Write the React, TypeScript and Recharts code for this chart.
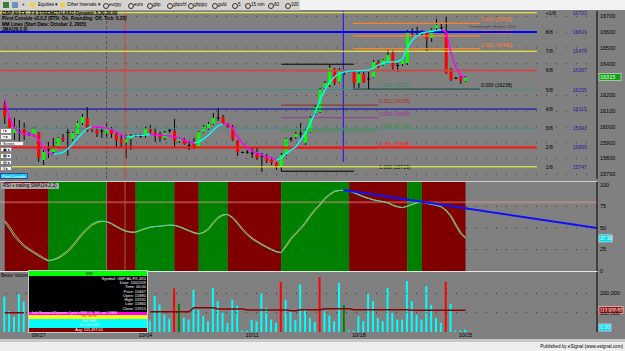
import React from 'react';
import { ComposedChart, Bar, Line, XAxis, YAxis, ReferenceLine, ReferenceArea, Cell } from 'recharts';

// ---------- price panel ----------
// [open, high, low, close]
const candles: number[][] = [
  [16139, 16171, 16019, 16063], [16058, 16065, 15917, 15952], [15962, 16057, 15917, 15993], [15974, 16044, 15905, 15968],
  [15993, 16025, 15917, 15949], [15955, 15965, 15943, 15952], [15955, 15997, 15939, 15987], [15962, 15968, 15778, 15803],
  [15791, 15854, 15759, 15841], [15854, 15905, 15803, 15860], [15841, 15930, 15822, 15873], [15879, 15936, 15867, 15930],
  [15930, 15955, 15905, 15917], [15968, 15993, 15816, 15962], [15924, 15968, 15911, 15962], [15955, 16038, 15949, 16025],
  [16025, 16082, 16012, 16063], [16057, 16126, 15968, 15974], [16000, 16006, 15968, 15981], [15981, 16000, 15936, 15955],
  [15974, 15993, 15930, 15977], [15955, 16025, 15930, 15987], [15987, 16000, 15930, 15955], [15955, 15962, 15873, 15917],
  [15924, 15955, 15873, 15898], [15898, 15949, 15803, 15924], [15924, 15955, 15854, 15943], [15943, 15952, 15936, 15946],
  [15943, 15955, 15930, 15944], [15949, 16000, 15930, 15987], [15987, 16012, 15949, 15968], [15968, 15993, 15905, 15955],
  [15955, 15968, 15905, 15930], [15930, 15974, 15917, 15962], [15974, 15993, 15962, 15981], [15974, 16050, 15873, 15911],
  [15911, 15936, 15898, 15930], [15917, 15930, 15886, 15892], [15886, 15911, 15854, 15883], [15898, 15930, 15860, 15867],
  [15873, 15974, 15867, 15968], [15968, 16012, 15962, 16000], [15993, 16031, 15981, 16019], [16019, 16088, 16012, 16057],
  [16057, 16120, 16038, 16060], [16063, 16076, 16012, 16019], [16019, 16025, 15993, 16000], [16000, 16012, 15911, 15917],
  [15911, 15917, 15816, 15841], [15841, 15845, 15835, 15838], [15841, 15854, 15829, 15843], [15835, 15867, 15803, 15836],
  [15829, 15873, 15791, 15803], [15816, 15835, 15715, 15813], [15816, 15829, 15772, 15784], [15791, 15810, 15759, 15772],
  [15772, 15778, 15727, 15747], [15747, 15835, 15718, 15822], [15829, 15930, 15816, 15924], [15924, 15936, 15905, 15927],
  [15936, 15968, 15924, 15955], [15955, 16025, 15930, 15959], [15898, 15987, 15886, 15974], [15968, 16069, 15962, 16057],
  [16088, 16139, 16076, 16126], [16095, 16247, 16088, 16234], [16247, 16291, 16234, 16278], [16265, 16398, 16253, 16373],
  [16367, 16373, 16265, 16278], [16285, 16373, 16278, 16360], [16348, 16360, 16329, 16351], [16354, 16360, 16345, 16351],
  [16348, 16360, 16247, 16278], [16278, 16348, 16247, 16335], [16335, 16348, 16278, 16285], [16303, 16348, 16240, 16307],
  [16316, 16424, 16310, 16411], [16411, 16424, 16373, 16379], [16392, 16430, 16386, 16424], [16411, 16487, 16405, 16455],
  [16468, 16487, 16360, 16379], [16386, 16405, 16348, 16392], [16398, 16436, 16386, 16424], [16405, 16614, 16392, 16607],
  [16601, 16626, 16569, 16604], [16607, 16633, 16569, 16601], [16595, 16614, 16576, 16598], [16595, 16601, 16481, 16557],
  [16563, 16626, 16538, 16614], [16626, 16683, 16614, 16645], [16626, 16658, 16601, 16630], [16607, 16696, 16335, 16341],
  [16367, 16373, 16291, 16297], [16310, 16316, 16303, 16312], [16316, 16322, 16272, 16291], [16291, 16322, 16285, 16315],
];

const trailMa = [
  16171, 16057, 15993, 15968, 15955, 15952, 15952, 15917, 15867, 15835,
  15827, 15831, 15839, 15860, 15890, 15928, 15960, 15991, 16002, 16001,
  15998, 15991, 15981, 15970, 15949, 15935, 15938, 15945, 15946, 15949,
  15953, 15949, 15947, 15946, 15943, 15936, 15930, 15917, 15905, 15898,
  15905, 15924, 15949, 15981, 16006, 16019, 16018, 15993, 15936, 15898,
  15867, 15848, 15835, 15822, 15810, 15803, 15791, 15803, 15829, 15854,
  15873, 15917, 15962, 16025, 16088, 16171, 16234, 16285, 16316, 16341,
  16348, 16354, 16355, 16357, 16358, 16360, 16373, 16392, 16405, 16411,
  16412, 16414, 16430, 16500, 16550, 16576, 16595, 16601, 16604, 16611,
  16614, 16601, 16468, 16379, 16329, 16310,
];
// bar ranges where the trailing line is drawn cyan (rising)
const maRising = [[10, 18], [25, 30], [39, 45], [56, 90]];

// 16300 sits under the last-price box, as in the original
const priceTicks = [15700, 15800, 15900, 16000, 16100, 16200, 16400, 16500, 16600, 16700];

const mmNames = ['+1/8', '8/8', '7/8', '6/8', '5/8', '4/8', '3/8', '2/8', '1/8'];
const mmValues = [16723, 16601, 16479, 16357, 16235, 16113, 15991, 15869, 15747];
const mmColors = ['#ffff30', '#0000ff', '#ffff30', '#c84a4a', '#3f9090', '#0000b8', '#3f9090', '#ff1010', '#ffff30'];
const mmWidths = [1, 2, 1, 2, 1, 1, 1, 2, 1];

const fibHigh = [
  { tag: '0.618 (16656)', value: 16656, color: '#ff7f27' },
  { tag: '0.500 (16576)', value: 16576, color: '#ff7f27' },
  { tag: '0.382 (16496)', value: 16496, color: '#ff7f27' },
  { tag: '0.000 (16238)', value: 16238, color: '#000000' },
];
const fibLow = [
  { tag: '', value: 16397, color: '#000000', short: true },
  { tag: '0.236 (16237)', value: 16237, color: '#2f8f70', short: false },
  { tag: '0.382 (16138)', value: 16138, color: '#8b2a2a', short: false },
  { tag: '0.500 (16058)', value: 16058, color: '#a030a0', short: false },
  { tag: '0.618 (15979)', value: 15979, color: '#3a9a3a', short: false },
  { tag: '0.786 (15864)', value: 15864, color: '#ff2020', short: false },
  { tag: '1.000 (15719)', value: 15719, color: '#000000', short: true },
];

// ---------- RSI panel ----------
const rsx = [
  57.3, 48.8, 39.9, 33.7, 28.3, 24.4, 20.9, 17.4, 14, 11.6,
  13.4, 15.5, 19.8, 23.8, 30.2, 37.2, 44.2, 50, 54.7, 57.3,
  58.1, 57.3, 54.7, 51.2, 48.3, 45.9, 45, 45.3, 47.7, 49.6,
  51.2, 51.7, 52.3, 52.9, 53.5, 52.9, 51.2, 48.8, 46.5, 44.2,
  43, 45.3, 49.6, 57, 62.8, 65.7, 65.7, 61.3, 54.7, 47.7,
  41.9, 37.2, 33.7, 30.2, 27.3, 24.4, 22.1, 21.3, 30.2, 38.4,
  44.2, 50, 57, 65.1, 72.1, 77.9, 84.9, 89.5, 93, 93.6,
  94.2, 93, 90.7, 88.4, 86, 84.3, 82.6, 81.4, 80.6, 79.1,
  76.2, 74.4, 73.6, 75.6, 77.6, 79.7, 80.6, 78.5, 77.3, 76.2,
  74.4, 69.8, 62.8, 52.3, 43, 37.9,
];
const rsxSma = [
  59, 52, 43, 36, 30, 26, 22.5, 19, 15.5, 12.5,
  12.8, 14.5, 18, 22, 28, 35, 42, 48, 53, 56,
  57.6, 57.6, 55.5, 52.3, 49.2, 46.6, 45.4, 45.2, 47, 49,
  50.8, 51.5, 52, 52.7, 53.3, 53.2, 51.8, 49.6, 47.2, 45,
  43.5, 44.5, 48, 55, 61.2, 64.8, 65.9, 62.6, 56.5, 49.5,
  43.5, 38.5, 34.8, 31.3, 28.3, 25.3, 22.8, 21.5, 28, 36.4,
  42.8, 48.6, 55.4, 63.2, 70.4, 76.5, 83.3, 88.4, 92.2, 93.5,
  94.1, 93.3, 91.3, 89, 86.6, 84.8, 83, 81.7, 80.8, 79.5,
  76.9, 75, 73.8, 75.1, 77.1, 79.2, 80.4, 79, 77.6, 76.5,
  74.9, 70.9, 64.6, 54.6, 45.3, 39,
];
// [from bar, to bar, rising?]
const rsiZones = [
  [0, 9, 0], [9, 21, 1], [21, 27, 0], [27, 35, 1], [35, 40, 0], [40, 46, 1],
  [46, 57, 0], [57, 71, 1], [71, 83, 0], [83, 86, 1], [86, 95, 0],
];
const rsiTicks = [0, 25, 50, 75, 100];
const rsiTrend = [{ x: 69.8, y: 94.2 }, { x: 122.1, y: 50 }];

// ---------- volume panel ----------
const N = null;
const volume = [
  184000, 108000, 80000, 197000, 158000, N, N, N, N, N,
  N, N, N, N, N, N, N, N, N, N,
  N, N, N, N, N, N, N, N, N, N,
  59000, 187000, 142000, 90000, 69000, 226000, 147000, 73000, 64000, 219000,
  116000, 82000, 56000, 229000, 160000, 99000, 47000, 168000, 137000, 7000,
  7000, 64000, 56000, 198000, 125000, 64000, 47000, 260000, 165000, 108000,
  61000, 246000, 116000, 73000, 52000, 285000, 108000, 85000, 56000, 255000,
  139000, 7000, 7000, 82000, 56000, 198000, 160000, 73000, 56000, 229000,
  99000, 64000, 64000, 264000, 160000, 90000, 64000, 238000, 139000, 73000,
  47000, 260000, 146000, 7000, 7000, 12000,
];
const volAvg = [
  100000, 100000, 100000, 100000, 100000, N, N, N, N, N,
  N, N, N, N, N, N, N, N, N, N,
  N, N, N, N, N, N, N, N, N, N,
  105000, 105000, 105000, 105000, 105000, 105000, 105000, 105000, 105000, 126000,
  126000, 126000, 126000, 126000, 119000, 119000, 119000, 119000, 119000, 119000,
  114000, 114000, 114000, 114000, 114000, 114000, 114000, 114000, 114000, 110000,
  110000, 115000, 115000, 115000, 115000, 115000, 121000, 121000, 121000, 121000,
  121000, 121000, 115000, 115000, 115000, 115000, 115000, 115000, 115000, 115000,
  115000, 115000, 115000, 115000, 113001, 113001, 113001, 113001, 113001, 113001,
  113001, 113001, 113001, 113001, 113001, 113001,
];
const climaxBars = [35, 57, 65, 91];
const churnBars = [36, 70];
const volTicks = [100000, 200000];
const dateIdx = [7, 29, 51, 73, 95];
const dateLabels = ['09/27', '10/04', '10/11', '10/18', '10/25'];

// layout constants
const X_DOMAIN = [-0.97, 122.1];
const CURSOR_IDX = 21;
const MARKER_IDX = 24.8;
const SPLIT_IDX = 69.8;
const MM_END = 109.7;
const FIB_LOW = [57, 72, 77];
const FIB_HIGH = [71.8, 98];

const rising = (i: number) => maRising.some(([a, b]) => i >= a && i <= b);
const falling = (i: number) => !maRising.some(([a, b]) => i > a && i < b);

const priceRows = candles.map(([o, h, l, c], i) => ({
  i, o, h, l, c,
  maUp: rising(i) ? trailMa[i] : null,
  maDn: falling(i) ? trailMa[i] : null,
}));
const rsiRows = rsx.map((v, i) => ({ i, rsx: v, sma: rsxSma[i] }));
const volRows = volume.map((v, i) => ({ i, v, avg: volAvg[i] }));

const CandleShape = (props: any) => {
  const { x, y, width, height, payload } = props;
  if (!payload || x == null || y == null) return null;
  const top = Math.min(y, y + height);
  const bottom = Math.max(y, y + height);
  const k = (bottom - top) / (payload.h - payload.l || 1);
  const yo = top + (payload.h - payload.o) * k;
  const yc = top + (payload.h - payload.c) * k;
  const cx = x + width / 2;
  const small = Math.abs(yo - yc) < 1.2;
  const fill = small ? '#000' : payload.c > payload.o ? '#00ff00' : '#ff0000';
  return (
    <g>
      <line x1={cx} x2={cx} y1={top} y2={bottom} stroke="#000" strokeWidth={1} />
      <rect x={cx - 1.5} y={Math.min(yo, yc)} width={3} height={Math.max(Math.abs(yo - yc), 1)} fill={fill} />
    </g>
  );
};

const EndTag = (props: any) => {
  const { viewBox, tagText, tagColor, tagDx = 1, tagDy = -2 } = props;
  if (!viewBox || !tagText) return null;
  return (
    <text x={viewBox.x + viewBox.width + tagDx} y={viewBox.y + tagDy} fontSize={5} fill={tagColor}>
      {tagText}
    </text>
  );
};

const MmTag = (props: any) => {
  const { viewBox, mmName, mmValue } = props;
  if (!viewBox) return null;
  const x = viewBox.x + viewBox.width;
  return (
    <g fontSize={5}>
      <text x={x + 9} y={viewBox.y + 1.8} fill="#000">{mmName}</text>
      <text x={x + 36} y={viewBox.y + 1.8} fill="#202098">{mmValue}</text>
    </g>
  );
};

const AxisBox = (props: any) => {
  const { viewBox, boxText, boxFill, boxColor, boxDy = 0, boxW = 22, boxFont = 5.5 } = props;
  if (!viewBox) return null;
  const x = viewBox.x + viewBox.width + 2;
  const y = viewBox.y + boxDy;
  return (
    <g>
      <rect x={x} y={y - 3.5} width={boxW} height={7} fill={boxFill} stroke="#fff" strokeWidth={0.5} />
      <text x={x + 1} y={y + 1.8} fontSize={boxFont} fill={boxColor}>{boxText}</text>
    </g>
  );
};

const axisTick = { fontSize: 5.5, fill: '#000' };

function PricePanel() {
  return (
    <ComposedChart width={625} height={168} data={priceRows} margin={{ top: 0, right: 0, bottom: 0, left: 0 }}>
      <XAxis dataKey="i" type="number" domain={X_DOMAIN} hide allowDataOverflow />
      <YAxis orientation="right" width={28} domain={[15670, 16734]} ticks={priceTicks} interval={0}
        tickSize={0} tickMargin={3} tickLine={false} tick={axisTick} axisLine={{ stroke: '#000' }} allowDataOverflow />
      {priceTicks.map((t) => (
        <ReferenceLine key={t} y={t} stroke="#222" strokeOpacity={0.7} strokeDasharray="1 9" />
      ))}
      <ReferenceLine x={CURSOR_IDX} stroke="#555" strokeDasharray="3 2" />
      <ReferenceLine x={MARKER_IDX} stroke="#d04040" />
      <ReferenceLine segment={[{ x: SPLIT_IDX, y: 16734 }, { x: SPLIT_IDX, y: 15778 }]} stroke="#1010ff" />
      {fibLow.map((f) => (
        <ReferenceLine key={'fl' + f.value} segment={[{ x: FIB_LOW[0], y: f.value }, { x: f.short ? FIB_LOW[1] : FIB_LOW[2], y: f.value }]}
          stroke={f.color} strokeWidth={1} />
      ))}
      {fibLow.map((f) => (
        <ReferenceLine key={'flt' + f.value} segment={[{ x: FIB_LOW[0], y: f.value }, { x: FIB_LOW[2], y: f.value }]}
          stroke="none" label={<EndTag tagText={f.tag} tagColor={f.color === '#8b2a2a' ? '#b02a2a' : f.color} />} />
      ))}
      {fibHigh.map((f) => (
        <ReferenceLine key={'fh' + f.value} segment={[{ x: FIB_HIGH[0], y: f.value }, { x: FIB_HIGH[1], y: f.value }]}
          stroke={f.color} strokeWidth={1.2} label={<EndTag tagText={f.tag} tagColor={f.color} />} />
      ))}
      {mmValues.map((v, k) => (
        <ReferenceLine key={'mm' + v} segment={[{ x: X_DOMAIN[0], y: v }, { x: MM_END, y: v }]}
          stroke={mmColors[k]} strokeWidth={mmWidths[k]} label={<MmTag mmName={mmNames[k]} mmValue={v} />} />
      ))}
      <Bar dataKey={(d: any) => [d.l, d.h]} barSize={3} shape={(p: any) => <CandleShape {...p} />} isAnimationActive={false} />
      <Line dataKey="maDn" stroke="#ff00ff" strokeWidth={1.4} dot={false} connectNulls={false} isAnimationActive={false} />
      <Line dataKey="maUp" stroke="#00ffff" strokeWidth={1.4} dot={false} connectNulls={false} isAnimationActive={false} />
      <ReferenceLine y={candles[candles.length - 1][3]} stroke="none"
        label={<AxisBox boxText={String(candles[candles.length - 1][3])} boxFill="#10a010" boxColor="#ffffff" />} />
    </ComposedChart>
  );
}

function RsiPanel() {
  return (
    <ComposedChart width={625} height={93} data={rsiRows} margin={{ top: 0, right: 0, bottom: 4, left: 0 }}>
      <XAxis dataKey="i" type="number" domain={X_DOMAIN} hide allowDataOverflow />
      <YAxis orientation="right" width={28} domain={[0, 103.5]} ticks={rsiTicks} interval={0}
        tickSize={0} tickMargin={3} tickLine={false} tick={axisTick} axisLine={{ stroke: '#000' }} allowDataOverflow />
      {rsiZones.map(([a, b, up]) => (
        <ReferenceArea key={'z' + a} x1={a} x2={b} y1={0} y2={103.5} fill={up ? '#008000' : '#800000'} fillOpacity={1} stroke="none" />
      ))}
      {[25, 50, 75].map((t) => (
        <ReferenceLine key={t} y={t} stroke="#111" strokeOpacity={0.7} strokeDasharray="1 9" />
      ))}
      <ReferenceLine y={80} stroke="#ff9a9a" strokeOpacity={0.4} strokeWidth={2} />
      <ReferenceLine x={CURSOR_IDX} stroke="#777" />
      <ReferenceLine x={MARKER_IDX} stroke="#906060" />
      <Line dataKey="sma" stroke="#ff9900" strokeWidth={1} dot={false} isAnimationActive={false} />
      <Line dataKey="rsx" stroke="#33e0d0" strokeWidth={1} dot={false} isAnimationActive={false} />
      <ReferenceLine segment={rsiTrend} stroke="#1010ff" strokeWidth={2} />
      <ReferenceLine y={rsx[rsx.length - 1]} stroke="none"
        label={<AxisBox boxText={rsx[rsx.length - 1].toFixed(2)} boxFill="#00d8f0" boxColor="#ffffff" boxW={13} boxFont={5} />} />
    </ComposedChart>
  );
}

function VolumePanel() {
  return (
    <ComposedChart width={625} height={69} data={volRows} margin={{ top: 0, right: 0, bottom: 0, left: 0 }}>
      <XAxis dataKey="i" type="number" domain={X_DOMAIN} ticks={dateIdx} interval={0} height={9}
        tickFormatter={(v: number) => dateLabels[dateIdx.indexOf(v)] ?? ''} tickSize={0} tickMargin={1}
        tickLine={false} axisLine={false} tick={axisTick} allowDataOverflow />
      <YAxis orientation="right" width={28} domain={[0, 311000]} ticks={volTicks} interval={0}
        tickFormatter={(v: number) => v.toLocaleString('en-US')}
        tickSize={0} tickMargin={3} tickLine={false} tick={axisTick} axisLine={{ stroke: '#000' }} allowDataOverflow />
      {volTicks.map((t) => (
        <ReferenceLine key={t} y={t} stroke="#111" strokeOpacity={0.7} strokeDasharray="1 9" />
      ))}
      <Bar dataKey="v" barSize={2} isAnimationActive={false}>
        {volRows.map((r) => (
          <Cell key={r.i} fill={climaxBars.includes(r.i) ? '#ff0000' : churnBars.includes(r.i) ? '#008000' : '#00ffff'} />
        ))}
      </Bar>
      <Line dataKey="avg" stroke="#8b0000" strokeWidth={1.5} dot={false} connectNulls={false} isAnimationActive={false} />
      <ReferenceLine y={volAvg[volAvg.length - 1] as number} stroke="none"
        label={<AxisBox boxText="113,000.87" boxFill="#a01010" boxColor="#ffffff" boxW={24} boxFont={4.6} />} />
      <ReferenceLine y={0} stroke="none"
        label={<AxisBox boxText="0.00" boxFill="#00d8f0" boxColor="#ffffff" boxW={12} boxDy={-4.5} boxFont={5} />} />
    </ComposedChart>
  );
}

const toolbarItems = [
  { x: 103, t: 'eurjpy' }, { x: 128, t: 'euro' }, { x: 147, t: 'gbp' }, { x: 167, t: 'gbpchf' },
  { x: 188, t: 'gbpjpy' }, { x: 212, t: 'gold' }, { x: 232, t: '5' }, { x: 245, t: '15 min' },
  { x: 268, t: '60' }, { x: 285, t: '100' },
];
const legendLines = [
  'GBP A0-FX - FX STRENGTH,ASO Dynamic,5,20,20.00',
  'Pivot Console v2.0.2 (RTH: On, Rounding: Off, Tick: 0.25)',
  'MM Lines (Start Date: October 2, 2005)',
  'JMA(20,2,0)',
];
const winLines = ['Symbol: GBP A0-FX,4X0', 'Date: 10/02/09', 'Time: 00:00', 'Price: 15667', 'Open: 15880', 'High: 15931', 'Low: 15860', 'Close: 15915'];
const sideButtons = ['I ▸', '≡ ▸', 'Screen', '▣ ▸', '▦ ▸', '▤ ▸', 'V ▸'];

const abs = (l: number, t: number, extra: React.CSSProperties = {}): React.CSSProperties => ({ position: 'absolute', left: l, top: t, ...extra });

export default function App() {
  return (
    <div style={{ position: 'fixed', left: 0, top: 0, width: 625, height: 351, background: '#808080', overflow: 'hidden', fontFamily: '"Liberation Sans", Arial, sans-serif' }}>
      {/* toolbar */}
      <div style={abs(0, 0, { width: 625, height: 10, background: '#f2f2f2' })} />
      <div style={abs(0, 0, { width: 300, height: 10, background: '#d6d3ce', borderBottom: '0.5px solid #9a9a9a', fontSize: 4.5, lineHeight: '10px', color: '#000' })}>
        <div style={abs(3, 2, { width: 6, height: 6, background: '#3a7a3a' })} />
        <div style={abs(12, 2, { width: 6, height: 6, background: '#7090c0' })} />
        <span style={abs(22, 0)}>+</span>
        <div style={abs(30, 3, { width: 5, height: 4, background: '#f0d040' })} />
        <span style={abs(38, 0)}>Equities ▾</span>
        <div style={abs(60, 3, { width: 5, height: 4, background: '#f0d040' })} />
        <span style={abs(67, 0)}>Other Intervals ▾</span>
        {toolbarItems.map((it) => (
          <React.Fragment key={it.t}>
            <div style={abs(it.x, 2.8, { width: 4, height: 4, borderRadius: 3, border: '0.5px solid #333' })} />
            <span style={abs(it.x + 6, 0)}>{it.t}</span>
          </React.Fragment>
        ))}
      </div>

      <div style={abs(0, 11)}><PricePanel /></div>
      <div style={abs(0, 181, { width: 597, height: 1, background: '#d0d0d0' })} />
      <div style={abs(0, 182)}><RsiPanel /></div>
      <div style={abs(0, 271, { width: 597, height: 1, background: '#e8e8e8' })} />
      <div style={abs(0, 272)}><VolumePanel /></div>

      {/* study legends */}
      {legendLines.map((l, k) => (
        <div key={l} style={abs(2, 11 + k * 5.3, { fontSize: 4.6, fontWeight: 'bold', lineHeight: '5.3px', whiteSpace: 'nowrap', color: '#000' })}>{l}</div>
      ))}
      <div style={abs(1, 183, { fontSize: 4.6, lineHeight: '6px', background: '#a6a6a6', padding: '0 2px', color: '#000', whiteSpace: 'nowrap' })}>RSI + trailing SMA(14,2,2)</div>
      <div style={abs(1, 273, { fontSize: 4.6, lineHeight: '6px', color: '#000', whiteSpace: 'nowrap' })}>Better Volume</div>
      <div style={abs(469, 24, { fontSize: 4.3, color: '#404040', whiteSpace: 'nowrap' })}>Overbought (Fame: 120)</div>

      {/* left side buttons */}
      {sideButtons.map((b, k) => (
        <div key={b} style={abs(0, 128 + k * 6.3, { width: b === 'Screen' ? 24 : 12, height: 5.5, background: '#f4f4f4', border: '0.5px solid #888', fontSize: 3.6, lineHeight: '5.5px', boxSizing: 'border-box', paddingLeft: 2, color: '#000' })}>{b}</div>
      ))}
      <div style={abs(0, 172.5, { width: 28, height: 6, background: '#20c8f0', border: '0.5px solid #2050a0', fontSize: 3.8, lineHeight: '6px', color: '#fff', boxSizing: 'border-box', paddingLeft: 1 })}>Pivot Console</div>

      {/* data window */}
      <div style={abs(28, 270, { width: 120, height: 63, background: '#000', border: '0.5px solid #c8c8c8', boxSizing: 'border-box', fontSize: 4, lineHeight: '4.3px', color: '#fff', overflow: 'hidden' })}>
        <div style={abs(0, 0, { width: 120, height: 5, background: '#00ff00', color: '#000', textAlign: 'center', lineHeight: '5px' })}>GW</div>
        {winLines.map((l, k) => (
          <div key={l} style={abs(0, 5.6 + k * 4.3, { width: 117, textAlign: 'right' })}>{l}</div>
        ))}
        <div style={abs(0, 41, { width: 120, height: 3.4, background: '#ff00ff', lineHeight: '3.4px', fontSize: 3.4, paddingLeft: 2, whiteSpace: 'nowrap' })}>Jurik Research/Dynamic Cycle's RSX 14, 200, val: 15880</div>
        <div style={abs(0, 44.4, { width: 120, height: 3.4, background: '#ffff00', lineHeight: '3.4px', fontSize: 3.4, color: '#c04000', textAlign: 'center' })}>rsx: 48.90</div>
        <div style={abs(0, 47.8, { width: 120, height: 9, background: '#00ffff', fontSize: 3.6, lineHeight: '4.5px', color: '#fff', textAlign: 'center' })}>
          <div>Vol: 0.00</div>
          <div>Vol: 207,846</div>
        </div>
        <div style={abs(0, 56.8, { width: 120, height: 6, background: '#800000', lineHeight: '5px', fontSize: 3.8, textAlign: 'center' })}>Avg: 101,497.00</div>
      </div>

      {/* footer */}
      <div style={abs(0, 339, { width: 625, height: 3, background: '#c8c8c8' })} />
      <div style={abs(0, 342, { width: 625, height: 9, background: '#eeeeee' })} />
      <div style={abs(0, 343, { width: 623, textAlign: 'right', fontSize: 4.6, lineHeight: '7px', color: '#000' })}>Published by eSignal (www.esignal.com)</div>
    </div>
  );
}
